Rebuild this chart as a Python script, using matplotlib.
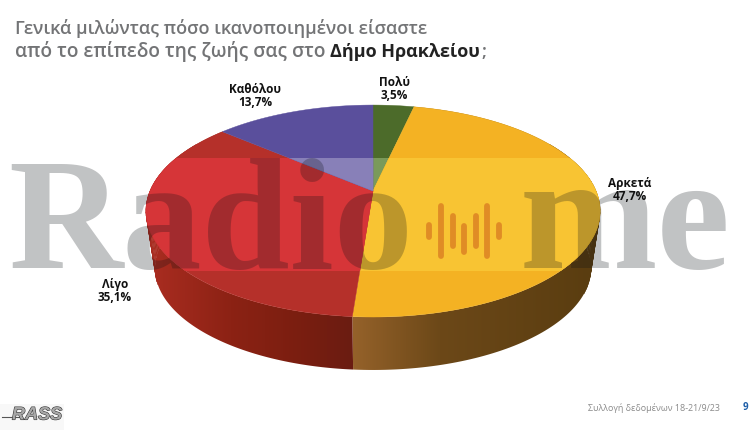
import numpy as np
import matplotlib
matplotlib.use("Agg")
import matplotlib.pyplot as plt
import matplotlib.patheffects as pe
from matplotlib.colors import to_rgb
from matplotlib.patches import Polygon, Rectangle

names = ["Πολύ", "Αρκετά", "Λίγο", "Καθόλου"]
values = [3.5, 47.7, 35.1, 13.7]
value_labels = ["3,5%", "47,7%", "35,1%", "13,7%"]
colors_top = ["#4c6b2a", "#f4b223", "#b5302a", "#5a4f9c"]
colors_band = ["#7a9a5a", "#f8c433", "#d63538", "#8880b8"]
title_1 = "Γενικά μιλώντας πόσο ικανοποιημένοι είσαστε"
title_2 = "από το επίπεδο της ζωής σας στο"
title_bold = "Δήμο Ηρακλείου"
title_end = ";"
footer = "Συλλογή δεδομένων 18-21/9/23"
page = "9"

FONT = ["Open Sans", "DejaVu Sans"]
CX, CY, A, B, K = 373.0, 191.0, 223.0, 102.2, 0.189
BAND_TOP, BAND_BOTTOM = 158, 271


def top_edge(theta):
    # theta = clockwise from 12 o'clock, circle seen in perspective
    u, v = np.sin(theta), np.cos(theta)
    w = 1 + K * v
    return CX + A * u / w, CY - B * v / w


def bottom_edge(theta):
    x, y = top_edge(theta)
    return CX + 0.96 * (x - CX), 249 + 0.96 * (y - CY)


def draw_side(t0, t1, stops):
    # horizontal gradient image clipped to the wall of one slice
    t = np.linspace(t0, t1, 150)
    xt, yt = top_edge(t)
    xb, yb = bottom_edge(t)
    pts = np.column_stack([np.concatenate([xt, xb[::-1]]), np.concatenate([yt, yb[::-1]])])
    x0, x1 = pts[:, 0].min(), pts[:, 0].max()
    y0, y1 = pts[:, 1].min(), pts[:, 1].max()
    gx = np.linspace(x0, x1, 300)
    xs = [s[0] for s in stops]
    rgb = np.array([to_rgb(s[1]) for s in stops])
    grad = np.stack([np.interp(gx, xs, rgb[:, i]) for i in range(3)], axis=-1)[None, :, :]
    im = ax.imshow(grad, extent=(x0, x1, y1, y0), aspect="auto", interpolation="bilinear")
    clip = Polygon(pts, closed=True, transform=ax.transData)
    im.set_clip_path(clip)


def fill_shoulder(t0, t1, color):
    # closes the gap between both rims at the far left and right
    steps = np.linspace(t0, t1, 30)
    for a, b in zip(steps[:-1], steps[1:]):
        x0, y0 = top_edge(a)
        x1, y1 = top_edge(b)
        x2, y2 = bottom_edge(b)
        x3, y3 = bottom_edge(a)
        ax.fill([x0, x1, x2, x3], [y0, y1, y2, y3], color=color, lw=0.3)


fig = plt.figure(figsize=(7.5, 4.3), dpi=100)
ax = fig.add_axes([0, 0, 1, 1])

fracs = np.array(values) / sum(values)
edges = np.concatenate([[0], np.cumsum(fracs)]) * 2 * np.pi

# side wall, only the front part shows
draw_side(edges[1], edges[2], [(353, "#95622a"), (440, "#6c4818"), (592, "#5a3d10")])
draw_side(edges[2], edges[3], [(155, "#a82c20"), (230, "#8c2214"), (300, "#7a1e10"), (353, "#6a1c12")])
fill_shoulder(np.radians(60), np.radians(115), "#5a3d10")
fill_shoulder(np.radians(250), np.radians(300), "#a82c20")
ax.set_xlim(0, 750)
ax.set_ylim(430, 0)
ax.axis("off")

# top face, then a lighter copy inside the watermark band
band = Rectangle((0, BAND_TOP), 750, BAND_BOTTOM - BAND_TOP, transform=ax.transData)
for i in range(len(values)):
    t = np.linspace(edges[i], edges[i + 1], 120)
    x, y = top_edge(t)
    xs = np.concatenate([[CX], x])
    ys = np.concatenate([[CY], y])
    ax.fill(xs, ys, color=colors_top[i], lw=0.3)
    poly = ax.fill(xs, ys, color=colors_band[i], lw=0.3)[0]
    poly.set_clip_path(band)

# watermark
wm = dict(family="Liberation Serif", weight="bold", color="#0a1014", alpha=0.25, va="baseline")
ax.text(8, 268, "Radio", ha="left", size=114, **wm)
ax.text(520, 268, "me", ha="left", size=119, **wm)
bar_x = [429, 441, 453, 464, 476, 487, 499]
bar_half = [9, 28, 18, 16, 18, 28, 9]
bar_mid = [231, 231, 231, 239, 231, 231, 231]
for bx, bh, bm in zip(bar_x, bar_half, bar_mid):
    ax.plot([bx, bx], [bm - bh + 3, bm + bh - 3], color="#e08c25", lw=4.2,
            solid_capstyle="round")

# slice labels
label_pos = [(394, 89), (630, 190), (115, 291), (255, 96)]
for (lx, ly), n, v in zip(label_pos, names, value_labels):
    ax.text(lx, ly, n + "\n" + v, ha="center", va="center", family=FONT, size=8.5,
            weight="bold", color="#111111", linespacing=1.05)

# title
ax.text(15, 29, title_1, family=FONT, size=13, color="#737476", va="center", weight="semibold")
ax.text(15, 52, title_2, family=FONT, size=13.8, color="#737476", va="center", weight="semibold")
ax.text(330, 52, title_bold, family=FONT, size=13, color="#222222", va="center", weight="bold")
ax.text(481, 52, title_end, family=FONT, size=13, color="#737476", va="center", weight="semibold")

# footer
ax.text(588, 408, footer, family=FONT, size=6.4, color="#8a8a8a", va="center")
ax.text(745, 408, page, family=FONT, size=7, color="#1f5fa8", va="center", ha="center", weight="bold")

# logo
ax.add_patch(Rectangle((0, 404), 64, 26, facecolor="#f8f8f8", edgecolor="none"))
ax.text(37, 415, "RASS", family="Liberation Sans", style="italic", weight="bold", size=13,
        color="#a8a8a8", ha="center", va="center",
        path_effects=[pe.withStroke(linewidth=0.8, foreground="#333333")])
ax.plot([2, 22], [417, 417], color="#555555", lw=0.8)

fig.savefig("out.png", dpi=100)
